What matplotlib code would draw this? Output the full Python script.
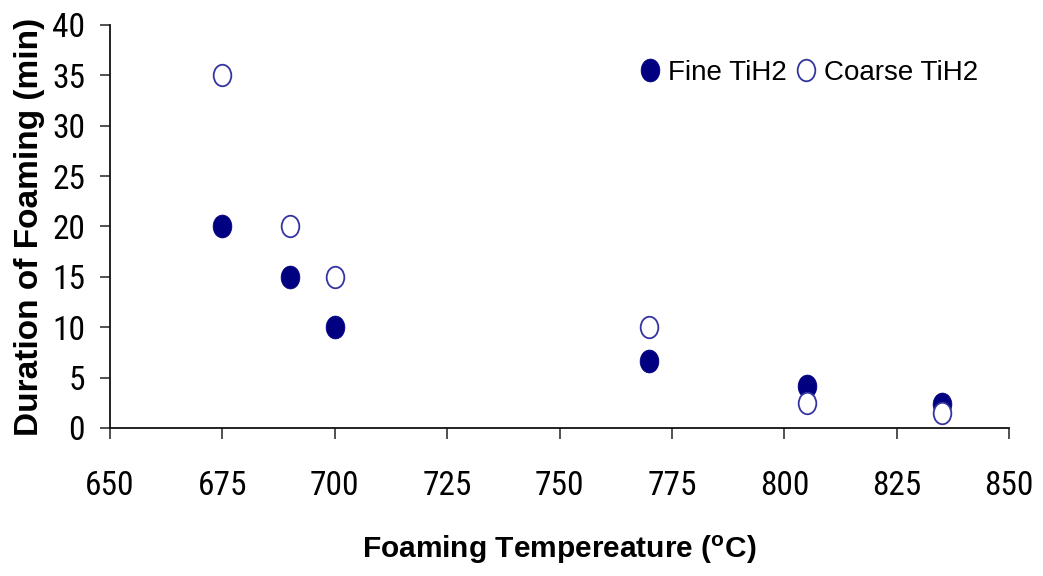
import matplotlib
matplotlib.use("Agg")
import matplotlib.pyplot as plt
from matplotlib import font_manager
from matplotlib.path import Path
from matplotlib.transforms import Affine2D

temps = [675, 690, 700, 770, 805, 835]
fine = [20, 15, 10, 6.6, 4.2, 2.4]
coarse = [35, 20, 15, 10, 2.5, 1.5]
xticks = [650, 675, 700, 725, 750, 775, 800, 825, 850]
yticks = [0, 5, 10, 15, 20, 25, 30, 35, 40]

names = {f.name for f in font_manager.fontManager.ttflist}
narrow = 'Liberation Sans'
for cand in ['Liberation Sans Narrow', 'Arial Narrow', 'Roboto Condensed', 'Archivo Narrow', 'PT Sans Narrow']:
    if cand in names:
        narrow = cand
        break

plt.rcParams['font.family'] = ['Liberation Sans', 'DejaVu Sans']

ellipse = Path.unit_circle().transformed(Affine2D().scale(0.82, 1.0))

fig = plt.figure(figsize=(10.43, 5.76), dpi=100)
ax = fig.add_axes([0.1055, 0.257, 0.862, 0.6996])

ax.plot(temps, fine, linestyle='none', marker=ellipse, markersize=16.5,
        markerfacecolor='#000080', markeredgecolor='#000080', markeredgewidth=0.5,
        label='Fine TiH2', zorder=3)
ax.plot(temps, coarse, linestyle='none', marker=ellipse, markersize=15.5,
        markerfacecolor='white', markeredgecolor='#3434A0', markeredgewidth=1.3,
        label='Coarse TiH2', zorder=4)

ax.set_xlim(650, 850)
ax.set_ylim(0, 40)
ax.set_xticks(xticks)
ax.set_yticks(yticks)
ax.tick_params(axis='both', direction='out', width=1.2, color='#333333')
ax.tick_params(axis='x', length=8, pad=22)
ax.tick_params(axis='y', length=7, pad=11)
for lab in ax.get_xticklabels() + ax.get_yticklabels():
    lab.set_fontfamily([narrow, 'DejaVu Sans'])
    lab.set_fontsize(24)
for s in ['top', 'right']:
    ax.spines[s].set_visible(False)
for s in ['left', 'bottom']:
    ax.spines[s].set_linewidth(1.3)
    ax.spines[s].set_color('#111111')

ax.set_xlabel(r'Foaming Tempereature ($\mathregular{^o}$C)', fontsize=21.5, fontweight='bold',
              labelpad=23)
ax.set_ylabel('Duration of Foaming (min)', fontsize=24, fontweight='bold', labelpad=5)

leg = ax.legend(loc='center right', ncol=2, frameon=False, fontsize=20, handletextpad=0.15,
                columnspacing=0.2, handlelength=1.0, borderpad=0, borderaxespad=0,
                bbox_to_anchor=(0.9655, 0.881))

fig.savefig('out.png', dpi=100)
